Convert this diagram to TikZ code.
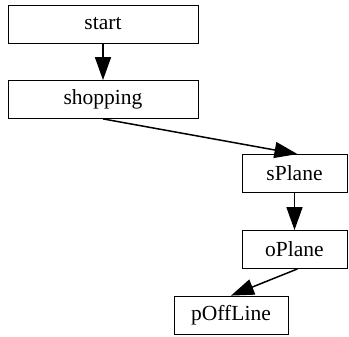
\documentclass[tikz,border=0pt]{standalone}
\usepackage{fontspec}
\setmainfont{Liberation Serif}
\usetikzlibrary{arrows.meta}
\tikzset{
  state/.style={draw, line width=0.8pt, minimum height=38pt, inner sep=0pt,
    font=\fontsize{21.5}{25}\selectfont},
  flow/.style={line width=1.5pt, -{Triangle[length=23pt,width=16pt]}}
}
\begin{document}
\begin{tikzpicture}[x=1pt,y=-1pt]
  \useasboundingbox (0,0) rectangle (349,337);
  \node [state, minimum width=190pt] (start)    at (103,24)    {start};
  \node [state, minimum width=190pt] (shopping) at (103,99.5)  {shopping};
  \node [state, minimum width=105pt] (sPlane)   at (294.5,173.5) {sPlane};
  \node [state, minimum width=105pt] (oPlane)   at (294.5,249.5) {oPlane};
  \node [state, minimum width=114pt] (pOffLine) at (231,315)   {pOffLine};

  \draw [flow] (start) -- (shopping);
  \draw [flow] (shopping.south) -- ([xshift=3pt]sPlane.north);
  \draw [flow] (sPlane) -- (oPlane);
  \draw [flow] ([xshift=3pt]oPlane.south) -- (pOffLine.north);
\end{tikzpicture}
\end{document}
